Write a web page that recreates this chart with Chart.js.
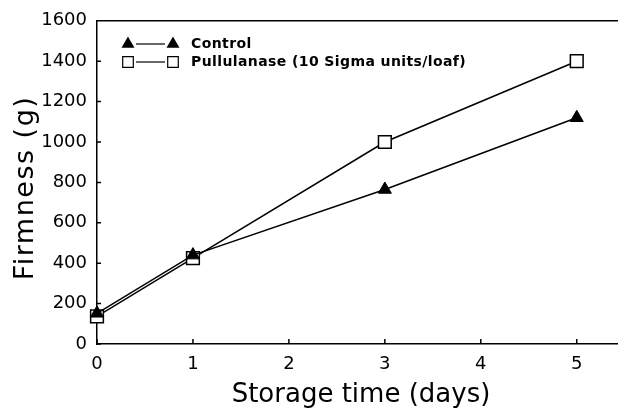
<!DOCTYPE html>
<html lang="en">
<head>
<meta charset="UTF-8">
<title>Firmness vs storage time</title>
<style>
  html, body { margin: 0; padding: 0; background: #fff; }
  #box { width: 618px; height: 408px; }
</style>
</head>
<body>
<div id="box"><canvas id="myChart01"></canvas></div>
<script src="https://cdn.jsdelivr.net/npm/chart.js"></script>
<script>
    // data
    var days = [0, 1, 3, 5];
    var controlValues = [152, 440, 765, 1120];
    var pullulanaseValues = [137, 425, 1000, 1400];
    var seriesNames = ['Control', 'Pullulanase (10 Sigma units/loaf)'];
    var xTicks = [0, 1, 2, 3, 4, 5];
    var yTicks = [0, 200, 400, 600, 800, 1000, 1200, 1400, 1600];
    var xTitle = 'Storage time (days)';
    var yTitle = 'Firmness (g)';

    function toPoints(values) {
        return days.map(function (d, i) { return { x: d, y: values[i] }; });
    }

    // inward ticks, top frame line, axis titles and the marker-line-marker legend
    var extras = {
        id: 'extras',
        afterDraw: function (chart) {
            var ctx = chart.ctx;
            var area = chart.chartArea;
            var xs = chart.scales.x, ys = chart.scales.y;
            ctx.save();
            ctx.strokeStyle = '#000';
            ctx.lineWidth = 1.5;
            ctx.beginPath();
            ctx.moveTo(area.left, area.top);
            ctx.lineTo(chart.width, area.top);
            xTicks.forEach(function (v) {
                var px = xs.getPixelForValue(v);
                ctx.moveTo(px, area.bottom);
                ctx.lineTo(px, area.bottom - 5);
            });
            yTicks.forEach(function (v) {
                var py = ys.getPixelForValue(v);
                ctx.moveTo(area.left - 1, py);
                ctx.lineTo(area.left + 4, py);
            });
            ctx.stroke();

            // axis titles
            ctx.fillStyle = '#000';
            ctx.textAlign = 'center';
            ctx.textBaseline = 'alphabetic';
            ctx.font = '26px "DejaVu Sans"';
            ctx.fillText(xTitle, 361, 402);
            ctx.save();
            ctx.translate(33, 188);
            ctx.rotate(-Math.PI / 2);
            ctx.font = '27px "DejaVu Sans"';
            ctx.letterSpacing = '1.5px';
            ctx.fillText(yTitle, 0, 0);
            ctx.restore();

            // legend
            var rows = [
                { ds: chart.data.datasets[0], y: 44, r: 6 },
                { ds: chart.data.datasets[1], y: 62, r: 7.5 }
            ];
            ctx.font = 'bold 14px "DejaVu Sans"';
            ctx.letterSpacing = '0.4px';
            ctx.textAlign = 'left';
            ctx.textBaseline = 'middle';
            rows.forEach(function (r) {
                var opt = {
                    pointStyle: r.ds.pointStyle,
                    radius: r.r,
                    borderWidth: 1.5
                };
                ctx.strokeStyle = '#000';
                ctx.fillStyle = r.ds.pointBackgroundColor;
                Chart.helpers.drawPoint(ctx, opt, 128, r.y);
                Chart.helpers.drawPoint(ctx, opt, 173, r.y);
                ctx.beginPath();
                ctx.lineWidth = 1.2;
                ctx.moveTo(136, r.y);
                ctx.lineTo(165, r.y);
                ctx.stroke();
                ctx.fillStyle = '#000';
                ctx.fillText(r.ds.label, 191, r.y);
            });
            ctx.restore();
        }
    };

    var mychart01 = new Chart(document.getElementById('myChart01'), {
        type: 'line',
        data: {
            datasets: [{
                label: seriesNames[0],
                data: toPoints(controlValues),
                borderColor: '#000',
                borderWidth: 1.5,
                pointStyle: 'triangle',
                pointRadius: 7.5,
                pointBackgroundColor: '#000',
                pointBorderColor: '#000',
                pointBorderWidth: 1,
                clip: false
            }, {
                label: seriesNames[1],
                data: toPoints(pullulanaseValues),
                borderColor: '#000',
                borderWidth: 1.5,
                pointStyle: 'rect',
                pointRadius: 9,
                pointBackgroundColor: '#fff',
                pointBorderColor: '#000',
                pointBorderWidth: 1.5,
                clip: false
            }]
        },
        options: {
            responsive: true,
            maintainAspectRatio: false,
            animation: false,
            layout: { autoPadding: false, padding: { top: 19, right: 0, left: 0, bottom: 0 } },
            plugins: { legend: { display: false }, tooltip: { enabled: false } },
            scales: {
                x: {
                    type: 'linear',
                    min: 0,
                    max: 5.43,
                    afterBuildTicks: function (s) {
                        s.ticks = xTicks.map(function (v) { return { value: v }; });
                    },
                    afterFit: function (s) {
                        s.height = 64;
                        s.paddingRight = 0;
                        s.paddingLeft = 0;
                    },
                    grid: { display: false, drawTicks: false },
                    border: { display: true, color: '#000', width: 1.5 },
                    ticks: {
                        color: '#000', padding: 10, maxRotation: 0,
                        callback: function (v) { return String(v); },
                        font: { family: 'DejaVu Sans', size: 18 }
                    }
                },
                y: {
                    min: 0,
                    max: 1600,
                    afterBuildTicks: function (s) {
                        s.ticks = yTicks.map(function (v) { return { value: v }; });
                    },
                    afterFit: function (s) { s.width = 97; },
                    grid: { display: false, drawTicks: false },
                    border: { display: true, color: '#000', width: 1.5 },
                    ticks: {
                        color: '#000', padding: 10,
                        callback: function (v) { return String(v); },
                        font: { family: 'DejaVu Sans', size: 18 }
                    }
                }
            }
        },
        plugins: [extras]
    });
</script>
</body>
</html>
